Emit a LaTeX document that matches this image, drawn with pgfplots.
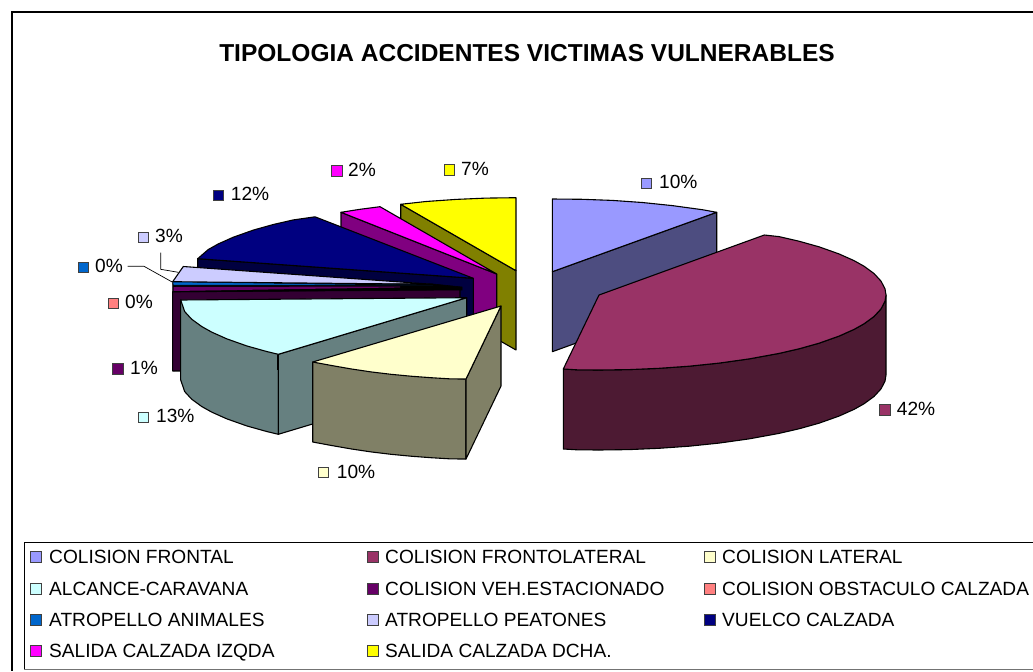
\documentclass[border=0pt]{standalone}
\usepackage{fontspec}
\setmainfont{Liberation Sans}
\usepackage{pgfplots}
\pgfplotsset{compat=1.18}

\definecolor{cFrontal}{HTML}{9999FF}
\definecolor{cFrontalS}{HTML}{4D4D80}
\definecolor{cFrontoLat}{HTML}{993366}
\definecolor{cFrontoLatS}{HTML}{4D1A33}
\definecolor{cLateral}{HTML}{FFFFCC}
\definecolor{cLateralS}{HTML}{808066}
\definecolor{cAlcance}{HTML}{CCFFFF}
\definecolor{cAlcanceS}{HTML}{668080}
\definecolor{cEstac}{HTML}{660066}
\definecolor{cEstacS}{HTML}{330033}
\definecolor{cObst}{HTML}{FF8080}
\definecolor{cAnim}{HTML}{0066CC}
\definecolor{cPeat}{HTML}{CCCCFF}
\definecolor{cVuelco}{HTML}{000080}
\definecolor{cVuelcoS}{HTML}{000040}
\definecolor{cIzq}{HTML}{FF00FF}
\definecolor{cIzqS}{HTML}{800080}
\definecolor{cDch}{HTML}{FFFF00}
\definecolor{cDchS}{HTML}{808000}

\pgfplotsset{
  piece/.style={fill=#1, draw=black, line width=1.1pt, line join=round, mark=none},
  swatch/.style={only marks, mark=square*, mark size=5.2pt,
    mark options={fill=#1, draw=black!75, line width=0.9pt}},
}
\newcommand{\lab}[2]{\node[anchor=west, inner sep=0pt, text height=13pt, text depth=0pt, font=\fontsize{19.2}{22}\selectfont] at (axis cs:#1) {#2};}

\begin{document}
\begin{tikzpicture}
\begin{axis}[
    width=1033bp, height=671bp, scale only axis,
    xmin=0, xmax=1033, ymin=0, ymax=671,
    y dir=reverse,
    axis lines=none,
]
% keep the whole canvas in the page
\path[use as bounding box] (axis cs:0,0) rectangle (axis cs:1033,671);
% chart frame and legend box
\addplot[draw=black, line width=1.1pt, mark=none] coordinates {(1033,12) (12,12) (12,671)};
\addplot[draw=black, line width=1pt, mark=none] coordinates {(1033,542) (24,542) (24,669)};
\addplot[draw=black!55, line width=1.4pt, mark=none] coordinates {(24,669.5) (1033,669.5)};

% SALIDA CALZADA DCHA.
\addplot[piece=cDchS] coordinates {(400.7,204.3) (516,270.7) (516,350) (400.7,284)} --cycle;
\addplot[piece=cDch] coordinates {(400.7,204.3) (426,201.5) (456,199.4) (486,198.1) (516,197.7) (516,270.7)} --cycle;
% SALIDA CALZADA IZQDA
\addplot[piece=cIzqS] coordinates {(341,212.3) (496.7,274) (496.7,354) (341,292)} --cycle;
\addplot[piece=cIzq] coordinates {(341,212.3) (360,209.3) (380,206.7) (496.7,274)} --cycle;
% VUELCO CALZADA
\addplot[piece=cVuelcoS] coordinates {(197.7,258.7) (473.3,278.3) (473.3,358) (197.7,338)} --cycle;
\addplot[piece=cVuelco] coordinates {(197.7,258.7) (208.3,249.5) (218.3,243.9) (233.3,237.2) (253.3,230.1) (273.3,224.5) (293.3,219.9) (315,216.8) (473.3,278.3)} --cycle;
% ATROPELLO PEATONES
\addplot[piece=cPeat] coordinates {(183.3,266.5) (172.7,281.7) (433,284.3)} --cycle;
% COLISION VEH.ESTACIONADO
\addplot[piece=cEstacS] coordinates {(172.7,291.7) (460,289) (460,370) (172.7,371)} --cycle;
\addplot[fill=black, draw=black, line width=0.6pt, mark=none] coordinates {(172.7,283) (433,284) (462,287) (462,290) (172.7,292)} --cycle;
\addplot[fill=cEstac, draw=none, mark=none] coordinates {(173.5,287) (400,286.5) (400,287.4) (173.5,291)} --cycle;
% ATROPELLO ANIMALES
\addplot[fill=cAnim, draw=black, line width=0.5pt, mark=none] coordinates {(172.7,282) (173.3,285) (433,285.2)} --cycle;
% ALCANCE-CARAVANA
\addplot[piece=cAlcanceS] coordinates {(180.7,300) (180.7,380) (184.7,391.6) (191.7,399.2) (201.7,406.5) (211.7,412.1) (226.7,418.8) (246.7,425.9) (266.7,431.5) (278.3,434.3) (278.3,354.3)} --cycle;
\addplot[piece=cAlcanceS] coordinates {(278.3,354.3) (466.7,297.7) (466.7,377.7) (278.3,434.3)} --cycle;
\addplot[piece=cAlcance] coordinates {(180.7,300) (184.7,311.6) (191.7,319.2) (201.7,326.5) (211.7,332.1) (226.7,338.8) (246.7,345.9) (266.7,351.5) (278.3,354.3) (466.7,297.7)} --cycle;
\addplot[draw=black, line width=2pt, mark=none] coordinates {(278.3,355) (278.3,370)};
% COLISION LATERAL
\addplot[piece=cLateralS] coordinates {(312.7,362) (312.7,442) (331,445.4) (351,448.9) (371,451.9) (391,454.3) (411,456.2) (431,457.7) (451,458.9) (466,459) (466,379)} --cycle;
\addplot[piece=cLateralS] coordinates {(466,379) (501,306) (501,386) (466,459)} --cycle;
\addplot[piece=cLateral] coordinates {(312.7,362) (331,365.4) (351,368.9) (371,371.9) (391,374.3) (411,376.2) (431,377.7) (451,378.9) (466,379) (501,306)} --cycle;
% COLISION FRONTAL
\addplot[piece=cFrontalS] coordinates {(552.3,271.7) (716.7,212.3) (716.7,292.3) (552.3,351.7)} --cycle;
\addplot[piece=cFrontal] coordinates {(552.3,199) (582.3,199.3) (612.3,200.4) (642.3,202.5) (672.3,205.6) (702.3,209.7) (716.7,212.3) (552.3,271.7)} --cycle;
% COLISION FRONTOLATERAL
\addplot[piece=cFrontoLatS] coordinates {(886,295) (886,375) (885,381.2) (881,388.9) (874,396.5) (864,403.8) (854,409.4) (839,416.1) (819,423.2) (799,428.8) (779,433.4) (749,438.9) (719,443.1) (689,446.2) (659,448.3) (629,449.6) (599,450) (577,449.8) (563.3,449) (563.3,369) (577,369.8) (599,370) (629,369.6) (659,368.3) (689,366.2) (719,363.1) (749,358.9) (779,353.4) (799,348.8) (819,343.2) (839,336.1) (854,329.4) (864,323.8) (874,316.5) (881,308.9) (885,301.2)} --cycle;
\addplot[piece=cFrontoLat] coordinates {(599,295) (764.3,235) (779,236.6) (799,241.2) (819,246.8) (839,253.9) (854,260.6) (864,266.2) (874,273.5) (881,281.1) (885,288.8) (886,295) (885,301.2) (881,308.9) (874,316.5) (864,323.8) (854,329.4) (839,336.1) (819,343.2) (799,348.8) (779,353.4) (749,358.9) (719,363.1) (689,366.2) (659,368.3) (629,369.6) (599,370) (577,369.8) (563.3,369)} --cycle;

% leader lines
\addplot[draw=black, line width=0.7pt, mark=none] coordinates {(127.7,266.3) (144,266.3) (172.7,282.3)};
\addplot[draw=black, line width=0.7pt, mark=none] coordinates {(160.7,252.7) (160.7,269.3) (178.3,272.3)};

% data label keys
\addplot[swatch=cFrontal] coordinates {(646.7,183.3)};
\addplot[swatch=cFrontoLat] coordinates {(885,410)};
\addplot[swatch=cLateral] coordinates {(323.3,472.7)};
\addplot[swatch=cAlcance] coordinates {(143.3,417.3)};
\addplot[swatch=cEstac] coordinates {(118,369)};
\addplot[swatch=cObst] coordinates {(113.3,303.3)};
\addplot[swatch=cAnim] coordinates {(83.3,267.3)};
\addplot[swatch=cPeat] coordinates {(143.3,237.3)};
\addplot[swatch=cVuelco] coordinates {(218.7,195.3)};
\addplot[swatch=cIzq] coordinates {(337,171)};
\addplot[swatch=cDch] coordinates {(449.7,170)};

% legend keys
\addplot[swatch=cFrontal] coordinates {(36,557)};
\addplot[swatch=cFrontoLat] coordinates {(373,557)};
\addplot[swatch=cLateral] coordinates {(710,557)};
\addplot[swatch=cAlcance] coordinates {(36,589)};
\addplot[swatch=cEstac] coordinates {(373,589)};
\addplot[swatch=cObst] coordinates {(710,589)};
\addplot[swatch=cAnim] coordinates {(36,620)};
\addplot[swatch=cPeat] coordinates {(373,620)};
\addplot[swatch=cVuelco] coordinates {(710,620)};
\addplot[swatch=cIzq] coordinates {(36,651)};
\addplot[swatch=cDch] coordinates {(373,651)};

\node[font=\fontsize{24.6}{28}\selectfont\bfseries] at (axis cs:527,53) {TIPOLOGIA ACCIDENTES VICTIMAS VULNERABLES};

\lab{659,182}{10\%}
\lab{896.7,409}{42\%}
\lab{336.7,472}{10\%}
\lab{156,416}{13\%}
\lab{130,368}{1\%}
\lab{125,302}{0\%}
\lab{95,266}{0\%}
\lab{155,236}{3\%}
\lab{230.7,194}{12\%}
\lab{348,170}{2\%}
\lab{461,169}{7\%}

\lab{49,557}{COLISION FRONTAL}
\lab{385,557}{COLISION FRONTOLATERAL}
\lab{722,557}{COLISION LATERAL}
\lab{49,589}{ALCANCE-CARAVANA}
\lab{385,589}{COLISION VEH.ESTACIONADO}
\lab{722,589}{COLISION OBSTACULO CALZADA}
\lab{49,620}{ATROPELLO ANIMALES}
\lab{385,620}{ATROPELLO PEATONES}
\lab{722,620}{VUELCO CALZADA}
\lab{49,651}{SALIDA CALZADA IZQDA}
\lab{385,651}{SALIDA CALZADA DCHA.}
\end{axis}
\end{tikzpicture}
\end{document}
